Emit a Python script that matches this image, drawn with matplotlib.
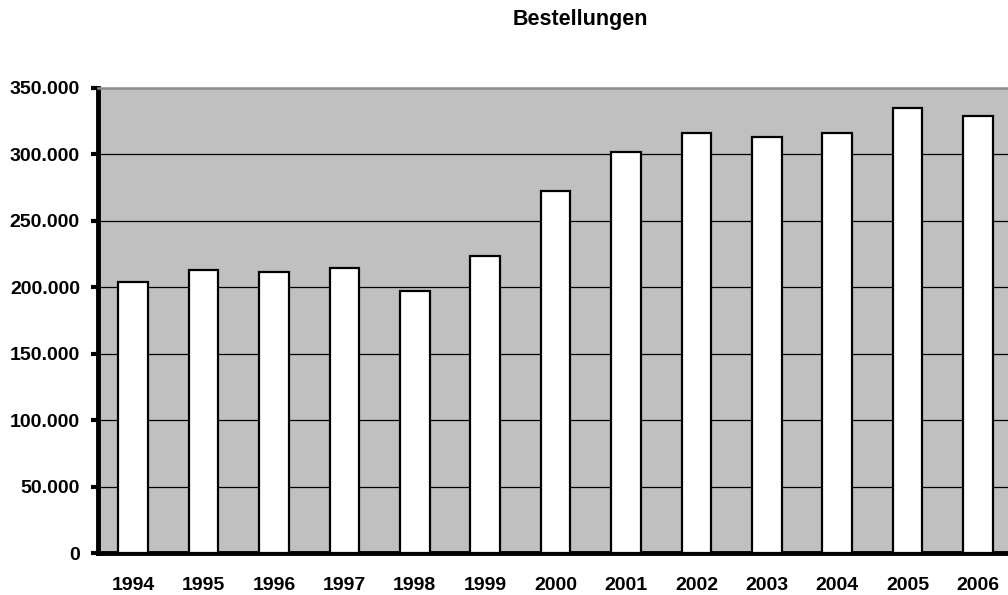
import matplotlib.pyplot as plt
import numpy as np

years = ["1994", "1995", "1996", "1997", "1998", "1999", "2000",
         "2001", "2002", "2003", "2004", "2005", "2006"]
orders = [204200, 212800, 211300, 214500, 197200, 223600, 272600,
          302000, 315900, 313400, 315900, 335100, 329100]
yticks = [0, 50000, 100000, 150000, 200000, 250000, 300000, 350000]
ytick_labels = ["0", "50.000", "100.000", "150.000", "200.000",
                "250.000", "300.000", "350.000"]

plt.rcParams['font.family'] = ['Liberation Sans', 'DejaVu Sans']

W, H = 1008, 595
fig = plt.figure(figsize=(W / 100, H / 100), dpi=100)

# plot area runs past the right edge of the picture (one more slot)
n_slots = len(years) + 1
slot = 70.4
left, bottom, top = 98, 553, 88
ax = fig.add_axes([left / W, (H - bottom) / H, n_slots * slot / W, (bottom - top) / H])
ax.set_facecolor("#c0c0c0")

x = np.arange(len(years))
ax.bar(x, orders, width=0.42, color="white", edgecolor="black", linewidth=1.6, zorder=3)

ax.set_xlim(-0.5, n_slots - 0.5)
ax.set_ylim(0, 350000)
ax.set_yticks(yticks)
ax.set_yticklabels(ytick_labels, fontsize=14, fontweight="bold")
ax.set_xticks(x)
ax.set_xticklabels(years, fontsize=14, fontweight="bold")

for v in yticks[1:-1]:
    ax.axhline(v, color="black", linewidth=0.9, zorder=1)

ax.tick_params(axis="y", length=5, width=3, pad=8)
ax.tick_params(axis="x", length=0, pad=17)

for s in ["left", "bottom"]:
    ax.spines[s].set_linewidth(3.5)
    ax.spines[s].set_color("black")
ax.spines["top"].set_color("#8c8c8c")
ax.spines["top"].set_linewidth(1.8)
ax.spines["right"].set_visible(False)

fig.text(580 / W, 1 - 20 / H, "Bestellungen", ha="center", va="center",
         fontsize=15.5, fontweight="bold")

fig.savefig("out.png", dpi=100)
